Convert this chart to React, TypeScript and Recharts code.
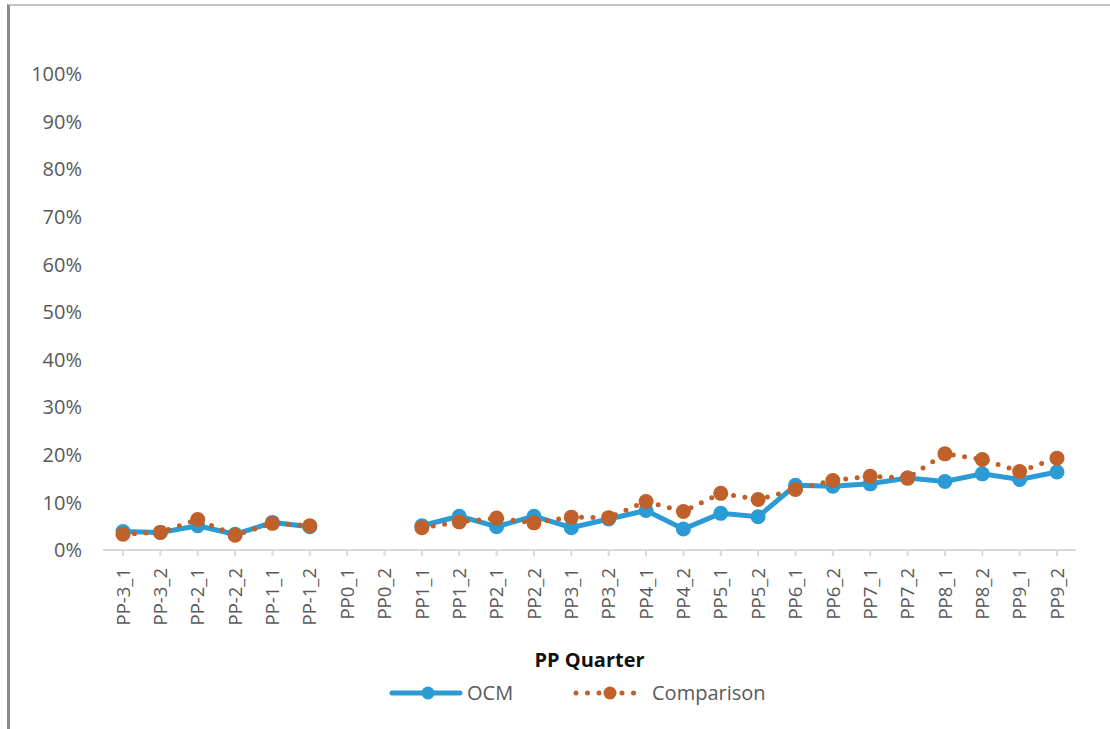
import { LineChart, Line, XAxis, YAxis, Legend } from 'recharts'

const categories = [
  'PP-3_1', 'PP-3_2', 'PP-2_1', 'PP-2_2', 'PP-1_1', 'PP-1_2', 'PP0_1', 'PP0_2',
  'PP1_1', 'PP1_2', 'PP2_1', 'PP2_2', 'PP3_1', 'PP3_2', 'PP4_1', 'PP4_2',
  'PP5_1', 'PP5_2', 'PP6_1', 'PP6_2', 'PP7_1', 'PP7_2', 'PP8_1', 'PP8_2', 'PP9_1', 'PP9_2',
]
const ocm = [
  3.9, 3.7, 5.1, 3.3, 5.8, 4.9, null, null,
  5.1, 7.1, 4.9, 7.1, 4.7, 6.5, 8.3, 4.4,
  7.7, 7.0, 13.6, 13.4, 13.9, 15.1, 14.4, 16.0, 14.8, 16.4,
]
const comparison = [
  3.3, 3.7, 6.4, 3.1, 5.6, 5.1, null, null,
  4.7, 5.9, 6.7, 5.7, 6.9, 6.8, 10.2, 8.1,
  11.9, 10.6, 12.7, 14.6, 15.5, 15.1, 20.2, 19.0, 16.5, 19.3,
]
const yTicks = [0, 10, 20, 30, 40, 50, 60, 70, 80, 90, 100]

const data = categories.map((c, i) => ({ quarter: c, OCM: ocm[i], Comparison: comparison[i] }))

const BLUE = '#2b9bd6'
const ORANGE = '#c0602a'
const TEXT = '#595959'
const FONT = '"Open Sans", sans-serif'

function XTick({ x, y, payload }: any) {
  return (
    <text
      transform={`translate(${x},${y + 10}) rotate(-90)`}
      textAnchor="end"
      dy="0.36em"
      fill={TEXT}
      fontSize={18.5}
      fontFamily={FONT}
    >
      {payload.value}
    </text>
  )
}

function LegendContent() {
  return (
    <div style={{ position: 'relative', height: 30, width: 1110, fontFamily: FONT }}>
      <svg width={1110} height={30} style={{ position: 'absolute', left: 0, top: 0 }}>
        <line x1={392} y1={15} x2={460} y2={15} stroke={BLUE} strokeWidth={5} strokeLinecap="round" />
        <circle cx={428} cy={15} r={6.5} fill={BLUE} />
        <text x={467} y={15} dy="0.36em" fill={TEXT} fontSize={20}>OCM</text>
        <line x1={576} y1={15} x2={640} y2={15} stroke={ORANGE} strokeWidth={5} strokeLinecap="round" strokeDasharray="0 11.5" />
        <circle cx={610} cy={15} r={6.5} fill={ORANGE} />
        <text x={652} y={15} dy="0.36em" fill={TEXT} fontSize={20}>Comparison</text>
      </svg>
    </div>
  )
}

export default function App() {
  return (
    <div style={{ position: 'absolute', left: 0, top: 0, width: 1110, height: 729, background: '#fff', overflow: 'hidden' }}>
      <div
        style={{
          position: 'absolute', left: 7, top: 4, right: -10, bottom: -10,
          borderLeft: '3px solid #8c8c8c', borderTop: '2px solid #c4c4c4',
        }}
      />
      <div style={{ position: 'absolute', left: 0, top: 0 }}>
        <LineChart width={1110} height={729} data={data} margin={{ top: 74, right: 34, bottom: 21, left: 0 }}>
          <XAxis
            dataKey="quarter"
            padding={{ left: 20, right: 19 }}
            interval={0}
            stroke="#d9d9d9"
            strokeWidth={2}
            tickSize={6}
            tick={<XTick />}
            height={128}
            label={{ value: 'PP Quarter', position: 'insideBottom', offset: 11, fill: '#111', fontSize: 20, fontWeight: 700, fontFamily: FONT }}
          />
          <YAxis
            domain={[0, 100]}
            ticks={yTicks}
            tickFormatter={(v) => `${v}%`}
            axisLine={false}
            tickLine={false}
            tickSize={0}
            tickMargin={21}
            width={103}
            tick={{ fill: TEXT, fontSize: 20, fontFamily: FONT }}
          />
          <Legend verticalAlign="bottom" content={<LegendContent />} wrapperStyle={{ left: 0, width: 1110 }} />
          <Line
            dataKey="OCM"
            stroke={BLUE}
            strokeWidth={5}
            dot={{ r: 7.5, fill: BLUE, stroke: 'none' }}
            connectNulls={false}
            isAnimationActive={false}
          />
          <Line
            dataKey="Comparison"
            stroke={ORANGE}
            strokeWidth={5}
            strokeLinecap="round"
            strokeDasharray="0 11.5"
            dot={{ r: 7.5, fill: ORANGE, stroke: 'none' }}
            connectNulls={false}
            isAnimationActive={false}
          />
        </LineChart>
      </div>
    </div>
  )
}
